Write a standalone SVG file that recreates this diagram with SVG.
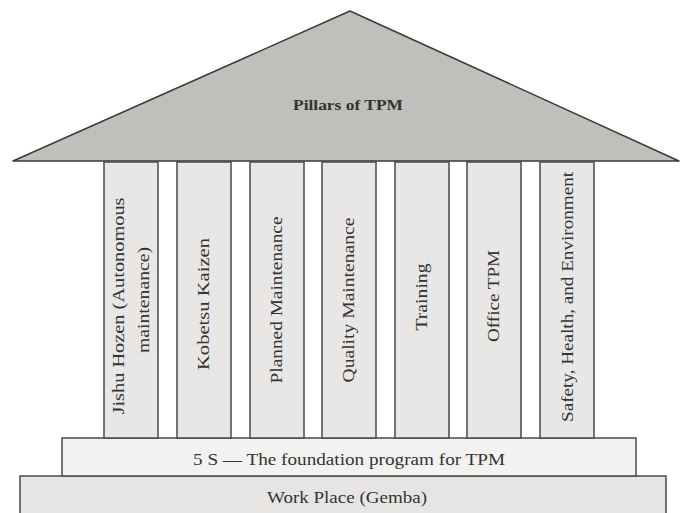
<svg xmlns="http://www.w3.org/2000/svg" width="680" height="513" viewBox="0 0 680 513">
<style>
.pillar{fill:#e8e7e5;stroke:#4a4a4a;stroke-width:1.5}
.pt{font-family:"Liberation Serif",serif;font-size:16px;fill:#333;text-anchor:middle;dominant-baseline:central}
.base{stroke:#4a4a4a;stroke-width:1.5}
</style>
<rect width="680" height="513" fill="#fff"/>
<g id="roof">
<polygon points="13,161 350,11 679,161" fill="#c0bfbb" stroke="#3a3a3a" stroke-width="1.5" stroke-linejoin="round"/>
<text x="348" y="105" font-family="Liberation Serif,serif" font-size="15" font-weight="bold" fill="#333" text-anchor="middle" dominant-baseline="central" textLength="110" lengthAdjust="spacingAndGlyphs">Pillars of TPM</text>
</g>
<g id="workplace">
<rect class="base" x="20" y="476" width="646" height="40" fill="#e6e5e3"/>
<text class="pt" x="347" y="497" textLength="160" lengthAdjust="spacingAndGlyphs">Work Place (Gemba)</text>
</g>
<g id="foundation">
<rect class="base" x="62" y="438" width="574" height="38" fill="#f2f2f0"/>
<text class="pt" x="349" y="459" textLength="312" lengthAdjust="spacingAndGlyphs">5 S — The foundation program for TPM</text>
</g>
<g id="p1">
<rect class="pillar" x="104" y="162" width="54" height="276"/>
<text class="pt" transform="translate(118,306) rotate(-90)" textLength="217" lengthAdjust="spacingAndGlyphs">Jishu Hozen (Autonomous</text>
<text class="pt" transform="translate(143,300) rotate(-90)" textLength="106" lengthAdjust="spacingAndGlyphs">maintenance)</text>
</g>
<g id="p2">
<rect class="pillar" x="177" y="162" width="54" height="276"/>
<text class="pt" transform="translate(203,304) rotate(-90)" textLength="132" lengthAdjust="spacingAndGlyphs">Kobetsu Kaizen</text>
</g>
<g id="p3">
<rect class="pillar" x="250" y="162" width="54" height="276"/>
<text class="pt" transform="translate(276,300) rotate(-90)" textLength="167" lengthAdjust="spacingAndGlyphs">Planned Maintenance</text>
</g>
<g id="p4">
<rect class="pillar" x="322" y="162" width="54" height="276"/>
<text class="pt" transform="translate(348,300) rotate(-90)" textLength="165" lengthAdjust="spacingAndGlyphs">Quality Maintenance</text>
</g>
<g id="p5">
<rect class="pillar" x="395" y="162" width="54" height="276"/>
<text class="pt" transform="translate(421,297) rotate(-90)" textLength="67" lengthAdjust="spacingAndGlyphs">Training</text>
</g>
<g id="p6">
<rect class="pillar" x="467" y="162" width="54" height="276"/>
<text class="pt" transform="translate(493,296) rotate(-90)" textLength="92" lengthAdjust="spacingAndGlyphs">Office TPM</text>
</g>
<g id="p7">
<rect class="pillar" x="540" y="162" width="54" height="276"/>
<text class="pt" transform="translate(567,297) rotate(-90)" textLength="250" lengthAdjust="spacingAndGlyphs">Safety, Health, and Environment</text>
</g>
<g id="connectors"></g>
</svg>
